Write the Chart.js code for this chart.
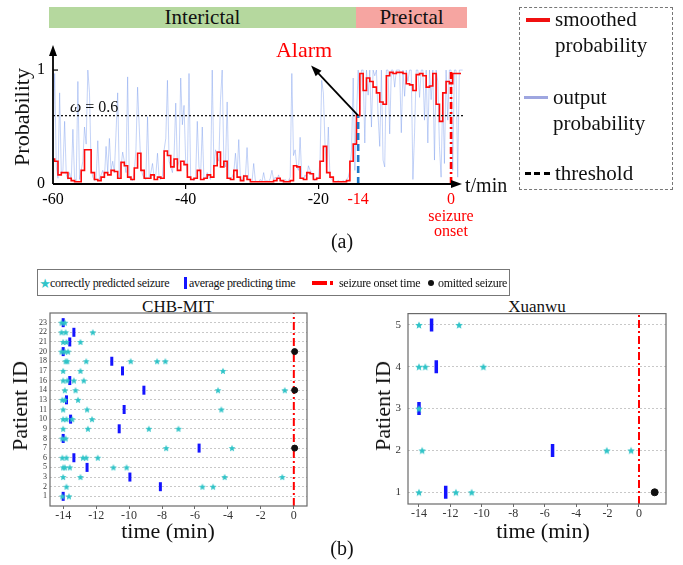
<!DOCTYPE html>
<html>
<head>
<meta charset="utf-8">
<script src="https://cdn.jsdelivr.net/npm/chart.js@4.4.0/dist/chart.umd.min.js"></script>
<style>
  html, body { margin: 0; padding: 0; background: #fff; }
  #page { position: relative; width: 683px; height: 565px; overflow: hidden;
          font-family: "Liberation Serif", "DejaVu Serif", serif; color: #111; }
  canvas { position: absolute; }
  .box { position: absolute; box-sizing: border-box; }
  .c { position: absolute; transform: translate(-50%, -50%); white-space: nowrap; line-height: 1; }
  .l { position: absolute; transform: translateY(-50%); white-space: nowrap; line-height: 1; }
  .rot { transform: translate(-50%, -50%) rotate(-90deg); }
  .phase { position: absolute; text-align: center; font-size: 21px; line-height: 21px; }
  .legB { font-size: 12px; letter-spacing: -0.3px; }
</style>
</head>
<body>
<div id="page">
  <!-- panel (a) header bars -->
  <div class="phase" style="left:49px;top:7px;width:307px;height:21px;background:#b5d89e;">Interictal</div>
  <div class="phase" style="left:356px;top:7px;width:111px;height:21px;background:#f6a5a1;">Preictal</div>

  <canvas id="chartA" width="520" height="260" style="left:0;top:0"></canvas>

  <div class="c rot" style="left:22px;top:117px;font-size:22px;">Probability</div>
  <div class="c" style="left:304px;top:50px;font-size:22px;color:#f00;">Alarm</div>
  <div class="l" style="left:70px;top:107px;font-size:16px;"><i>ω</i> = 0.6</div>
  <div class="l" style="left:465px;top:185px;font-size:20px;">t/min</div>
  <div class="c" style="left:451px;top:216px;font-size:16px;color:#f00;">seizure</div>
  <div class="c" style="left:451px;top:231px;font-size:16px;color:#f00;">onset</div>
  <div class="c" style="left:342px;top:241px;font-size:20px;">(a)</div>

  <!-- panel (a) legend -->
  <div class="box" style="left:519px;top:7px;width:154px;height:183px;border:1px dashed #777;"></div>
  <div class="box" style="left:526px;top:18px;width:24px;height:4px;background:#f01010;"></div>
  <div class="l" style="left:555px;top:19px;font-size:21px;">smoothed</div>
  <div class="l" style="left:555px;top:45px;font-size:21px;">probability</div>
  <div class="box" style="left:524px;top:96px;width:24px;height:3px;background:#9ea6e0;"></div>
  <div class="l" style="left:553px;top:97px;font-size:21px;">output</div>
  <div class="l" style="left:553px;top:123px;font-size:21px;">probability</div>
  <div class="box" style="left:525px;top:172px;width:25px;height:2.5px;background:repeating-linear-gradient(90deg,#000 0 6px,transparent 6px 9.5px);"></div>
  <div class="l" style="left:555px;top:173px;font-size:21px;">threshold</div>

  <!-- panel (b) legend -->
  <div class="box" style="left:37px;top:269px;width:473px;height:27px;border:1px solid #777;"></div>
  <div class="c" style="left:45px;top:283px;font-size:13px;color:#30c4c8;font-family:'DejaVu Sans';">★</div>
  <div class="l legB" style="left:50px;top:283px;">correctly predicted seizure</div>
  <div class="box" style="left:184px;top:277px;width:3px;height:12px;background:#1414ff;"></div>
  <div class="l legB" style="left:189px;top:283px;">average predicting time</div>
  <div class="box" style="left:312px;top:281px;width:15px;height:4px;background:#f00;"></div>
  <div class="box" style="left:330px;top:281px;width:3px;height:4px;background:#f00;"></div>
  <div class="l legB" style="left:339px;top:283px;">seizure onset time</div>
  <div class="box" style="left:428px;top:280px;width:6px;height:6px;border-radius:50%;background:#111;"></div>
  <div class="l legB" style="left:438px;top:283px;">omitted seizure</div>

  <div class="c" style="left:178px;top:306px;font-size:17px;">CHB-MIT</div>
  <div class="c" style="left:537px;top:306px;font-size:17px;">Xuanwu</div>

  <canvas id="chartChb" width="340" height="245" style="left:0;top:300px"></canvas>
  <canvas id="chartXw" width="343" height="245" style="left:340px;top:300px"></canvas>

  <div class="c rot" style="left:20px;top:406px;font-size:22px;">Patient ID</div>
  <div class="c rot" style="left:383px;top:406px;font-size:22px;">Patient ID</div>
  <div class="c" style="left:168px;top:531px;font-size:22px;">time (min)</div>
  <div class="c" style="left:543px;top:531px;font-size:22px;">time (min)</div>
  <div class="c" style="left:342px;top:548px;font-size:20px;">(b)</div>
</div>

<script>
// ---------- panel (a): probability traces ----------
const T_START = -60;
const SMOOTH_STEP = 0.5;   // minutes between smoothed samples
const OUTPUT_STEP = 0.25;  // minutes between output samples
const T_END = 1.8;
const THRESHOLD = 0.6;
const ALARM_T = -14;
const ONSET_T = 0;
const timeTicksA = [-60, -40, -20, -14, 0];
const probTicksA = [0, 1];
const redTicksA = [-14, 0];

const smoothed = [
  0.22, 0.2, 0.08, 0.1, 0.1, 0.05, 0.03, 0.02, 0.02, 0.12,
  0.3, 0.3, 0.1, 0.04, 0.03, 0.06, 0.1, 0.08, 0.12, 0.11,
  0.05, 0.19, 0.16, 0.06, 0.04, 0.14, 0.27, 0.12, 0.05, 0.05,
  0.08, 0.04, 0.06, 0.05, 0.29, 0.25, 0.15, 0.22, 0.12, 0.2,
  0.17, 0.06, 0.04, 0.05, 0.12, 0.04, 0.05, 0.08, 0.06, 0.16,
  0.28, 0.15, 0.2, 0.05, 0.04, 0.12, 0.06, 0.03, 0.07, 0.04,
  0.02, 0.02, 0.02, 0.02, 0.02, 0.02, 0.02, 0.03, 0.05, 0.03,
  0.02, 0.02, 0.03, 0.16, 0.15, 0.05, 0.04, 0.1, 0.09, 0.04,
  0.05, 0.2, 0.33, 0.1, 0.06, 0.02, 0.02, 0.02, 0.02, 0.03,
  0.2, 0.35, 0.6, 0.97, 0.82, 0.93, 0.9, 0.85, 0.8, 0.72,
  0.7, 0.95, 0.98, 0.97, 0.98, 0.98, 0.97, 0.88, 0.87, 0.82,
  0.96, 0.97, 0.95, 0.85, 0.86, 0.97, 0.7, 0.55, 0.8, 0.9,
  0.88, 0.97, 0.97, 0.97
];

const output = [
  0.3, 0.97, 0.15, 0.05, 0.8, 0.1, 0.12, 0.55,
  0.08, 0.04, 0.1, 0.03, 0.48, 0.05, 0.02, 0.9,
  0.04, 0.12, 0.2, 0.5, 0.35, 1.0, 0.8, 0.15,
  0.06, 0.03, 0.05, 0.38, 0.04, 0.08, 0.12, 0.05,
  0.33, 0.1, 0.4, 0.12, 0.2, 0.1, 0.45, 0.8,
  0.06, 0.15, 0.28, 0.2, 0.1, 0.94, 0.05, 0.04,
  0.03, 0.1, 0.3, 0.85, 0.5, 0.15, 0.08, 0.05,
  0.04, 0.59, 0.06, 0.1, 0.18, 0.05, 0.08, 0.27,
  0.05, 0.04, 0.07, 0.3, 0.4, 0.91, 0.2, 0.15,
  0.1, 0.25, 0.71, 0.15, 0.2, 0.93, 0.52, 0.69,
  0.2, 0.1, 0.97, 0.06, 0.04, 0.03, 0.05, 0.55,
  0.15, 0.08, 0.5, 0.04, 0.05, 0.1, 0.06, 0.04,
  1.0, 0.15, 0.3, 0.25, 0.2, 0.74, 1.0, 0.2,
  0.15, 0.72, 0.05, 0.04, 0.06, 0.1, 0.27, 0.08,
  0.39, 0.05, 0.03, 0.08, 0.06, 0.32, 0.04, 0.02,
  0.02, 0.18, 0.03, 0.02, 0.02, 0.04, 0.02, 0.1,
  0.02, 0.03, 0.02, 0.05, 0.12, 0.04, 0.06, 0.03,
  0.08, 0.03, 0.02, 0.02, 0.04, 0.02, 0.03, 0.06,
  0.97, 0.25, 0.3, 0.15, 0.12, 0.41, 0.05, 0.04,
  0.08, 0.05, 0.16, 0.12, 0.1, 0.04, 0.03, 0.06,
  0.05, 0.2, 0.91, 0.8, 0.35, 0.1, 0.5, 0.06,
  0.04, 0.03, 0.02, 0.02, 0.03, 0.02, 0.02, 0.03,
  0.02, 0.04, 0.06, 0.12, 0.3, 0.93, 0.12, 0.6,
  1.0, 0.65, 1.0, 1.0, 0.36, 1.0, 0.78, 1.0,
  0.5, 1.0, 0.95, 1.0, 0.6, 0.33, 1.0, 0.21,
  0.15, 1.0, 1.0, 0.44, 1.0, 1.0, 0.85, 1.0,
  1.0, 1.0, 0.45, 1.0, 0.77, 1.0, 0.9, 1.0,
  1.0, 0.04, 0.45, 1.0, 1.0, 0.76, 1.0, 1.0,
  0.56, 1.0, 0.36, 1.0, 0.74, 1.0, 0.21, 1.0,
  0.9, 0.33, 0.06, 0.8, 0.18, 1.0, 0.56, 1.0,
  1.0, 0.12, 1.0, 1.0, 0.06, 1.0, 1.0, 1.0
];

// where the "Alarm" arrow points to (data coords)
const ALARM_TIP = [-21.1, 1.04];

// ---------- panel (b): per-patient predictions ----------
const chbIds = ['1', '2', '3', '5', '6', '7', '8', '9', '10', '11', '13', '14', '16', '17', '18', '20', '21', '22', '23'];
const chbStars = [
  [-14.05, -13.65],
  [-13.8, -5.55, -4.9],
  [-14.0, -12.95, -4.2, -0.7],
  [-14.0, -13.9, -13.6, -10.95, -10.15],
  [-14.05, -13.8, -12.8, -12.6, -11.9],
  [-7.75, -3.75],
  [-14.05, -13.85],
  [-14.0, -12.5, -8.8, -7.0],
  [-14.0, -13.8, -13.45, -12.25],
  [-14.0, -12.55, -4.4],
  [-14.05, -13.9, -13.1],
  [-13.9, -13.25, -4.6, -0.55],
  [-14.0, -13.75, -13.35, -12.75],
  [-14.0, -12.95, -4.3],
  [-13.85, -13.75, -12.6, -9.9, -8.3, -7.8],
  [-14.1, -13.9, -13.7],
  [-14.0, -13.8, -12.95],
  [-14.1, -13.85, -12.2],
  [-14.1, -13.9]
];
const chbAvg = [-14.0, -8.1, -9.95, -12.55, -13.35, -5.75, -14.0, -10.6, -13.55, -10.3,
                -13.8, -9.1, -13.6, -10.4, -11.05, -14.0, -13.6, -13.35, -14.0];
const chbOmitted = ['7', '14', '20'];
const CHB_OMIT_T = 0.05;
const chbTimeTicks = [-14, -12, -10, -8, -6, -4, -2, 0];

const xwIds = ['1', '2', '3', '4', '5'];
const xwStars = [
  [-14.0, -11.65, -10.65],
  [-13.8, -2.05, -0.5],
  [-14.0],
  [-14.0, -13.6, -9.9],
  [-14.0, -11.45]
];
const xwAvg = [-12.3, -5.5, -14.0, -12.9, -13.2];
const xwOmitted = ['1'];
const XW_OMIT_T = 1.0;
const xwTimeTicks = [-14, -12, -10, -8, -6, -4, -2, 0];

Chart.defaults.font.family = '"Liberation Serif", "DejaVu Serif", serif';
Chart.defaults.color = '#111';

// arrowhead helper
function arrowHead(ctx, x0, y0, x1, y1, len, half) {
  const ang = Math.atan2(y1 - y0, x1 - x0);
  ctx.beginPath();
  ctx.moveTo(x1, y1);
  ctx.lineTo(x1 - len * Math.cos(ang) + half * Math.sin(ang), y1 - len * Math.sin(ang) - half * Math.cos(ang));
  ctx.lineTo(x1 - len * Math.cos(ang) - half * Math.sin(ang), y1 - len * Math.sin(ang) + half * Math.cos(ang));
  ctx.closePath();
  ctx.fill();
}

const axesArrows = {
  id: 'axesArrows',
  afterDatasetsDraw(chart) {
    const { ctx, chartArea: a, scales: { x, y } } = chart;
    const y0 = y.getPixelForValue(0);
    ctx.save();
    ctx.strokeStyle = '#000';
    ctx.fillStyle = '#000';
    ctx.lineWidth = 1.8;
    // x axis
    ctx.beginPath();
    ctx.moveTo(a.left, y0);
    ctx.lineTo(a.right - 6, y0);
    ctx.stroke();
    arrowHead(ctx, a.left, y0, a.right - 1, y0, 11, 4);
    // y axis
    ctx.beginPath();
    ctx.moveTo(a.left, y0);
    ctx.lineTo(a.left, a.top + 6);
    ctx.stroke();
    arrowHead(ctx, a.left, y0, a.left, a.top, 11, 4);
    // inside ticks on y
    ctx.lineWidth = 1.2;
    probTicksA.forEach(v => {
      const py = y.getPixelForValue(v);
      ctx.beginPath();
      ctx.moveTo(a.left, py);
      ctx.lineTo(a.left + 5, py);
      ctx.stroke();
    });
    // alarm arrow
    const ax = x.getPixelForValue(ALARM_T), ay = y.getPixelForValue(THRESHOLD);
    const tx = x.getPixelForValue(ALARM_TIP[0]), ty = y.getPixelForValue(ALARM_TIP[1]);
    ctx.lineWidth = 1.8;
    ctx.beginPath();
    ctx.moveTo(ax, ay);
    ctx.lineTo(tx + (ax - tx) * 0.12, ty + (ay - ty) * 0.12);
    ctx.stroke();
    arrowHead(ctx, ax, ay, tx, ty, 11, 4);
    ctx.restore();
  }
};

new Chart(document.getElementById('chartA'), {
  type: 'line',
  data: {
    datasets: [
      {
        data: output.map((p, i) => ({ x: T_START + i * OUTPUT_STEP, y: p })),
        borderColor: 'rgba(110, 145, 235, 0.45)', borderWidth: 0.9, pointRadius: 0, order: 4
      },
      {
        data: smoothed.map((p, i) => ({ x: T_START + i * SMOOTH_STEP, y: p })),
        borderColor: '#ff0a0a', borderWidth: 1.6, pointRadius: 0, stepped: 'middle', order: 3
      },
      {
        data: [{ x: T_START, y: THRESHOLD }, { x: T_END, y: THRESHOLD }],
        borderColor: '#111', borderWidth: 1.3, borderDash: [2, 2], pointRadius: 0, order: 2
      },
      {
        data: [{ x: ALARM_T, y: 0 }, { x: ALARM_T, y: THRESHOLD }],
        borderColor: '#1f78c8', borderWidth: 2.6, borderDash: [7, 4], pointRadius: 0, order: 1
      },
      {
        data: [{ x: ONSET_T, y: 0 }, { x: ONSET_T, y: 1 }],
        borderColor: '#ff0000', borderWidth: 2.6, borderDash: [7, 3, 2, 3], pointRadius: 0, order: 0
      }
    ]
  },
  options: {
    responsive: false,
    animation: false,
    events: [],
    layout: { padding: { left: 0, top: 45, right: 57, bottom: 0 } },
    plugins: { legend: { display: false }, tooltip: { enabled: false } },
    scales: {
      x: {
        type: 'linear', min: T_START, max: T_END,
        afterBuildTicks: s => { s.ticks = timeTicksA.map(v => ({ value: v })); },
        afterFit: s => { s.height = 76; },
        border: { display: false },
        grid: {
          drawOnChartArea: false, tickLength: 5, lineWidth: 1.2,
          color: c => (c.tick && (c.tick.value === -40 || c.tick.value === -20)) ? '#000' : 'rgba(0,0,0,0)'
        },
        ticks: {
          autoSkip: false, maxRotation: 0, padding: 1,
          font: { size: 16 },
          color: c => redTicksA.includes(c.tick.value) ? '#f00' : '#000'
        }
      },
      y: {
        type: 'linear', min: 0, max: 1.22,
        afterBuildTicks: s => { s.ticks = probTicksA.map(v => ({ value: v })); },
        afterFit: s => { s.width = 53; },
        border: { display: false },
        grid: { display: false, drawTicks: false },
        ticks: { padding: 8, font: { size: 16 }, color: '#000' }
      }
    }
  },
  plugins: [axesArrows]
});

// ---------- panel (b) charts ----------
function starImage(r, color) {
  const c = document.createElement('canvas');
  const s = Math.ceil(r * 2) + 2;
  c.width = s; c.height = s;
  const g = c.getContext('2d');
  g.translate(s / 2, s / 2 + r * 0.1);
  g.beginPath();
  for (let k = 0; k < 10; k++) {
    const rr = k % 2 ? r * 0.45 : r;
    const ang = -Math.PI / 2 + k * Math.PI / 5;
    g.lineTo(rr * Math.cos(ang), rr * Math.sin(ang));
  }
  g.closePath();
  g.fillStyle = color;
  g.fill();
  return c;
}

const framePlugin = {
  id: 'frame',
  afterDraw(chart) {
    const { ctx, chartArea: a } = chart;
    ctx.save();
    ctx.strokeStyle = '#6a6a6a';
    ctx.lineWidth = 1.2;
    ctx.strokeRect(a.left, a.top, a.right - a.left, a.bottom - a.top);
    ctx.restore();
  }
};

function seizureChart(id, ids, stars, avg, omitted, omitT, timeTicks, o) {
  const yMin = o.yMin, yMax = ids.length - 1 + (o.yMax);
  return new Chart(document.getElementById(id), {
    type: 'scatter',
    data: {
      datasets: [
        {
          data: stars.flatMap((row, i) => row.map(t => ({ x: t, y: i }))),
          pointStyle: starImage(o.starR, '#30c4c8'), pointRadius: o.starR, order: 0
        },
        {
          data: omitted.map(pid => ({ x: omitT, y: ids.indexOf(pid) })),
          pointStyle: 'circle', pointRadius: o.dotR,
          backgroundColor: '#111', borderColor: '#111', order: 1
        },
        {
          data: avg.map((t, i) => ({ x: t, y: i })),
          pointStyle: 'line', rotation: 90, pointRadius: o.barR,
          borderWidth: o.barW, borderColor: '#1414ff', backgroundColor: '#1414ff', order: 2
        },
        {
          data: [{ x: 0, y: yMin }, { x: 0, y: yMax }],
          showLine: true, pointRadius: 0,
          borderColor: '#ff0000', borderWidth: 2, borderDash: [8, 3, 2, 3], order: 3
        }
      ]
    },
    options: {
      responsive: false,
      animation: false,
      events: [],
      layout: { padding: { left: 0, top: 13, right: o.padR, bottom: 0 } },
      plugins: { legend: { display: false }, tooltip: { enabled: false } },
      scales: {
        x: {
          type: 'linear', min: o.xMin, max: o.xMax,
          afterBuildTicks: s => { s.ticks = timeTicks.map(v => ({ value: v })); },
          afterFit: s => { s.height = o.xH; },
          border: { display: false },
          grid: { drawOnChartArea: false, tickLength: 3, color: '#6a6a6a' },
          ticks: { autoSkip: false, maxRotation: 0, padding: 0, font: { size: o.xFont }, color: '#333' }
        },
        y: {
          type: 'linear', min: yMin, max: yMax,
          afterBuildTicks: s => { s.ticks = ids.map((_, i) => ({ value: i })); },
          afterFit: s => { s.width = o.yW; },
          border: { display: false, dash: [2, 2] },
          grid: { color: '#c2c2c2', lineWidth: 0.9, drawTicks: false },
          ticks: { autoSkip: false, padding: o.yPad, font: { size: o.yFont }, color: '#333', callback: v => ids[v] }
        }
      }
    },
    plugins: [framePlugin]
  });
}

seizureChart('chartChb', chbIds, chbStars, chbAvg, chbOmitted, CHB_OMIT_T, chbTimeTicks, {
  xMin: -14.8, xMax: 0.8, yMin: -1, yMax: 1, padR: 33, xH: 39, yW: 50,
  starR: 3.6, dotR: 3, barR: 4.5, barW: 3, xFont: 12, yFont: 8, yPad: 3
});
seizureChart('chartXw', xwIds, xwStars, xwAvg, xwOmitted, XW_OMIT_T, xwTimeTicks, {
  xMin: -14.7, xMax: 1.72, yMin: -0.28, yMax: 0.27, padR: 17, xH: 41, yW: 68,
  starR: 4, dotR: 3.5, barR: 6.5, barW: 3.5, xFont: 12, yFont: 11, yPad: 7
});
</script>
</body>
</html>
